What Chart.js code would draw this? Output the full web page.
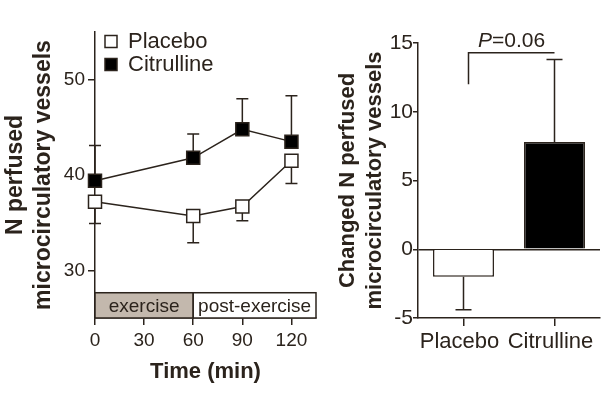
<!DOCTYPE html>
<html>
<head>
<meta charset="utf-8">
<script src="https://cdn.jsdelivr.net/npm/chart.js@4.4.0/dist/chart.umd.min.js"></script>
<style>
  body { margin: 0; background: #fff; }
  #wrap { position: relative; width: 608px; height: 399px; }
  .panel { position: absolute; top: 0; height: 399px; }
  #left { left: 0; width: 330px; }
  #right { left: 330px; width: 278px; }
</style>
</head>
<body>
<div id="wrap">
  <div class="panel" id="left"><canvas id="TimeChart"></canvas></div>
  <div class="panel" id="right"><canvas id="ChangeChart"></canvas></div>
</div>
<script>
// left panel: time course
var times = [0, 60, 90, 120];
var timeTicks = [0, 30, 60, 90, 120];
var yTicks = [30, 40, 50];
var placeboMean = [37.2, 35.7, 36.7, 41.5];
var placeboSem = [2.3, 2.8, 1.5, 2.4];
var citrullineMean = [39.4, 41.8, 44.8, 43.5];
var citrullineSem = [3.7, 2.5, 3.2, 4.8];
var phases = ['exercise', 'post-exercise'];
var phaseEdges = [0, 60, 135];

// right panel: change
var groups = ['Placebo', 'Citrulline'];
var changeMean = [-2.0, 7.8];
var changeSem = [2.4, 6.0];
var changeTicks = [-5, 0, 5, 10, 15];
var pValue = '0.06';

var ink = '#2b231c';
Chart.defaults.font.family = '"Liberation Sans", Arial, sans-serif';
Chart.defaults.color = ink;

function pts(means) {
    return times.map(function (t, i) { return { x: t, y: means[i] }; });
}

/*************************************************************** */

var phaseBox = {
    id: 'phaseBox',
    beforeDatasetsDraw: function (chart) {
        var c = chart.ctx, xs = chart.scales.x, ys = chart.scales.y;
        var yb = ys.getPixelForValue(25), yt = ys.getPixelForValue(27.65);
        c.save();
        c.lineWidth = 1.5;
        c.strokeStyle = ink;
        c.font = '19px "Liberation Sans"';
        c.textAlign = 'center';
        c.textBaseline = 'middle';
        for (var i = 0; i < phases.length; i++) {
            var x0 = xs.getPixelForValue(phaseEdges[i]);
            var x1 = xs.getPixelForValue(phaseEdges[i + 1]);
            c.fillStyle = i === 0 ? '#c3b8ad' : '#fff';
            c.fillRect(x0, yt, x1 - x0, yb - yt);
            c.strokeRect(x0, yt, x1 - x0, yb - yt);
            c.fillStyle = ink;
            c.fillText(phases[i], (x0 + x1) / 2, (yt + yb) / 2 + 1);
        }
        c.restore();
    }
};

var timeErrors = {
    id: 'timeErrors',
    beforeDatasetsDraw: function (chart) {
        var c = chart.ctx, xs = chart.scales.x, ys = chart.scales.y;
        c.save();
        c.lineWidth = 1.5;
        c.strokeStyle = ink;
        chart.data.datasets.forEach(function (ds) {
            ds.data.forEach(function (p, i) {
                var x = xs.getPixelForValue(p.x);
                var y0 = ys.getPixelForValue(p.y);
                var y1 = ys.getPixelForValue(p.y + ds.errDir * ds.err[i]);
                c.beginPath();
                c.moveTo(x, y0); c.lineTo(x, y1);
                c.moveTo(x - 6, y1); c.lineTo(x + 6, y1);
                c.stroke();
            });
        });
        c.restore();
    }
};

// put the legend in the top left corner of the plot
var placeLegend = {
    id: 'placeLegend',
    beforeDraw: function (chart) {
        var l = chart.legend, ca = chart.chartArea;
        var w = l.width, h = l.height;
        l.left = ca.left + 9; l.right = l.left + w;
        l.top = ca.top - 2.5; l.bottom = l.top + h;
    }
};

var ctx = document.getElementById('TimeChart');

var chart = new Chart(ctx, {
    type: 'scatter',
    data: {
        datasets: [
            {
                label: 'Placebo',
                data: pts(placeboMean),
                err: placeboSem,
                errDir: -1,
                showLine: true,
                borderColor: ink,
                backgroundColor: '#fff',
                borderWidth: 1.5,
                pointStyle: 'rect',
                pointRadius: 9.2,
                pointBorderWidth: 1.5,
                clip: false
            },
            {
                label: 'Citrulline',
                data: pts(citrullineMean),
                err: citrullineSem,
                errDir: 1,
                showLine: true,
                borderColor: ink,
                backgroundColor: '#000',
                borderWidth: 1.5,
                pointStyle: 'rect',
                pointRadius: 9.2,
                pointBorderWidth: 1.5,
                clip: false
            }
        ]
    },
    options: {
        animation: false,
        responsive: true,
        maintainAspectRatio: false,
        events: [],
        layout: { padding: { top: 32, right: 14, left: 0, bottom: 0 } },
        plugins: {
            tooltip: { enabled: false },
            legend: {
                position: 'chartArea',
                align: 'start',
                labels: { boxWidth: 12, boxHeight: 12, padding: 1, font: { size: 22 }, color: ink }
            }
        },
        scales: {
            x: {
                type: 'linear',
                min: 0,
                max: 135,
                afterBuildTicks: function (s) { s.ticks = timeTicks.map(function (v) { return { value: v }; }); },
                afterFit: function (s) { s.height = 81; },
                grid: { drawOnChartArea: false, tickLength: 7, color: ink, lineWidth: 1.5 },
                border: { color: ink, width: 1.5 },
                ticks: { font: { size: 19 }, color: ink, padding: 4, maxRotation: 0 },
                title: { display: true, text: 'Time (min)', font: { size: 22, weight: 'bold' }, color: ink, padding: { bottom: 14 } }
            },
            y: {
                min: 25,
                max: 55,
                afterBuildTicks: function (s) { s.ticks = yTicks.map(function (v) { return { value: v }; }); },
                afterFit: function (s) { s.width = 95; },
                grid: { drawOnChartArea: false, tickLength: 7, color: ink, lineWidth: 1.5 },
                border: { color: ink, width: 1.5 },
                ticks: { font: { size: 19 }, color: ink, padding: 3 },
                title: { display: true, text: ['N perfused', 'microcirculatory vessels'], font: { size: 23, weight: 'bold' }, color: ink, padding: { top: 2 } }
            }
        }
    },
    plugins: [phaseBox, timeErrors, placeLegend]
});

/*************************************************************** */

var barExtras = {
    id: 'barExtras',
    afterDatasetsDraw: function (chart) {
        var c = chart.ctx, xs = chart.scales.x, ys = chart.scales.y;
        c.save();
        c.lineWidth = 1.5;
        c.strokeStyle = ink;
        // error bars, pointing away from zero
        changeMean.forEach(function (m, i) {
            var x = xs.getPixelForValue(i);
            var dir = m < 0 ? -1 : 1;
            var y0 = ys.getPixelForValue(m);
            var y1 = ys.getPixelForValue(m + dir * changeSem[i]);
            c.beginPath();
            c.moveTo(x, y0); c.lineTo(x, y1);
            c.moveTo(x - 8, y1); c.lineTo(x + 8, y1);
            c.stroke();
        });
        // significance bracket
        var xl = xs.getPixelForValue(0) + 5, xr = xs.getPixelForValue(1);
        var yt = ys.getPixelForValue(14.3), yl = ys.getPixelForValue(12);
        c.beginPath();
        c.moveTo(xl, yl); c.lineTo(xl, yt); c.lineTo(xr, yt);
        c.stroke();
        // P label, italic P
        var rest = '=' + pValue;
        c.fillStyle = ink;
        c.textBaseline = 'alphabetic';
        c.font = 'italic 21px "Liberation Sans"';
        var wp = c.measureText('P').width;
        c.font = '21px "Liberation Sans"';
        var wr = c.measureText(rest).width;
        var x0 = (xl + xr) / 2 - (wp + wr) / 2;
        c.font = 'italic 21px "Liberation Sans"';
        c.fillText('P', x0, yt - 6);
        c.font = '21px "Liberation Sans"';
        c.fillText(rest, x0 + wp, yt - 6);
        c.restore();
    }
};

var ctx2 = document.getElementById('ChangeChart');

var chart2 = new Chart(ctx2, {
    type: 'bar',
    data: {
        labels: groups,
        datasets: [
            {
                label: 'Change',
                data: changeMean,
                backgroundColor: ['#fff', '#000'],
                borderColor: ink,
                borderWidth: 1.5,
                barPercentage: 0.67,
                categoryPercentage: 1
            }
        ]
    },
    options: {
        animation: false,
        responsive: true,
        maintainAspectRatio: false,
        events: [],
        layout: { padding: { top: 43, right: 8, left: 0, bottom: 0 } },
        plugins: { legend: { display: false }, tooltip: { enabled: false } },
        scales: {
            x: {
                afterFit: function (s) { s.height = 81; },
                grid: { offset: false, drawOnChartArea: false, tickLength: 8, color: ink, lineWidth: 1.5 },
                border: { color: ink, width: 1.5 },
                ticks: { font: { size: 22 }, color: ink, padding: 3, maxRotation: 0, autoSkip: false, labelOffset: -4 }
            },
            y: {
                min: -5,
                max: 15,
                afterBuildTicks: function (s) { s.ticks = changeTicks.map(function (v) { return { value: v }; }); },
                afterFit: function (s) { s.width = 88; },
                grid: {
                    color: function (c) { return c.tick && c.tick.value === 0 ? ink : 'rgba(0,0,0,0)'; },
                    tickColor: ink,
                    tickLength: 5,
                    lineWidth: 1.5
                },
                border: { color: ink, width: 1.5 },
                ticks: { font: { size: 21 }, color: ink, padding: 0 },
                title: { display: true, text: ['Changed N perfused', 'microcirculatory vessels'], font: { size: 22, weight: 'bold' }, color: ink, padding: { top: 5 } }
            }
        }
    },
    plugins: [barExtras]
});
</script>
</body>
</html>
